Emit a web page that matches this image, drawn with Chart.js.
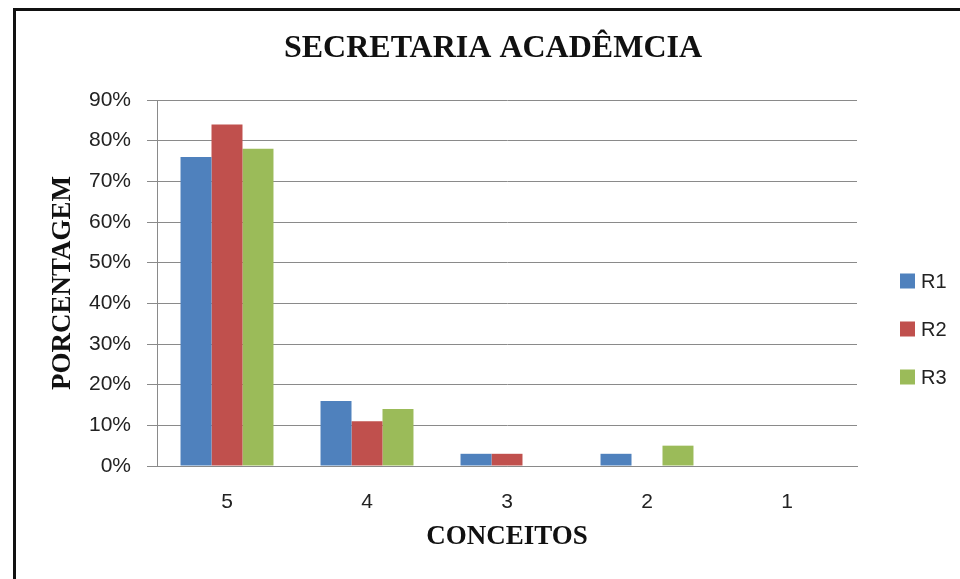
<!DOCTYPE html>
<html>
<head>
<meta charset="utf-8">
<script src="https://cdn.jsdelivr.net/npm/chart.js@4/dist/chart.umd.min.js"></script>
<style>
  html, body { margin:0; padding:0; background:#fff; overflow:hidden; width:960px; height:579px; }
  #frame { position:absolute; left:13px; top:8px; width:1000px; height:700px;
           border-left:3px solid #111; border-top:3px solid #111; }
  #wrap { position:absolute; left:0; top:0; width:986px; height:579px; }
</style>
</head>
<body>
<div id="frame"></div>
<div id="wrap"><canvas id="chart" width="986" height="579"></canvas></div>
<script>
const chartTitle = "SECRETARIA ACADÊMCIA";
const categories = ["5", "4", "3", "2", "1"];
const seriesNames = ["R1", "R2", "R3"];
const r1 = [76, 16, 3, 3, 0];
const r2 = [84, 11, 3, 0, 0];
const r3 = [78, 14, 0, 5, 0];
const colors = ["#4F81BD", "#C0504D", "#9BBB59"];
const yTicks = [0, 10, 20, 30, 40, 50, 60, 70, 80, 90];

// title and legend drawn by hand so they sit where the original had them
const extras = {
    id: 'extras',
    afterDraw(chart){
        const ctx = chart.ctx;
        ctx.save();
        ctx.fillStyle = '#111';
        ctx.textAlign = 'center';
        ctx.textBaseline = 'middle';
        ctx.font = 'bold 32px "Liberation Serif", "Times New Roman", serif';
        ctx.fillText(chartTitle, 493, 49);

        ctx.textAlign = 'left';
        ctx.font = '20px "Liberation Sans", Arial, sans-serif';
        chart.data.datasets.forEach((ds, i) => {
            const y = 281 + i*48;
            ctx.fillStyle = ds.backgroundColor;
            ctx.fillRect(900, y-7.5, 15, 15);
            ctx.fillStyle = '#222';
            ctx.fillText(ds.label, 921, y+1);
        });
        ctx.restore();
    }
};

const ctx = document.getElementById("chart");
new Chart(ctx, {
    type:'bar',
    data:{
        labels:categories,
        datasets:[r1, r2, r3].map((d, i) => ({
            label:seriesNames[i],
            data:d,
            backgroundColor:colors[i],
            categoryPercentage:0.664,
            barPercentage:1.0
        }))
    },
    options:{
        responsive:false,
        animation:false,
        layout:{ padding:{ left:0, right:129, top:100, bottom:0 } },
        plugins:{
            legend:{ display:false },
            tooltip:{ enabled:false },
            title:{ display:false }
        },
        scales:{
            x:{
                grid:{ display:false, drawTicks:false },
                border:{ display:true, color:'#8a8a8a', width:1 },
                ticks:{ color:'#222', padding:24,
                        font:{ family:'"Liberation Sans", Arial, sans-serif', size:21 } },
                title:{
                    display:true, text:'CONCEITOS', color:'#111',
                    font:{ family:'"Liberation Serif", "Times New Roman", serif', size:27, weight:'bold' },
                    padding:{ top:0, bottom:26 }
                },
                afterFit(s){ s.height = 113; }
            },
            y:{
                min:0, max:90,
                afterBuildTicks(s){ s.ticks = yTicks.map(v => ({ value:v })); },
                grid:{ color:'#8a8a8a', lineWidth:1, tickLength:10, drawTicks:true },
                border:{ display:true, color:'#8a8a8a', width:1 },
                ticks:{ color:'#222', padding:16,
                        font:{ family:'"Liberation Sans", Arial, sans-serif', size:21 },
                        callback:v => v + '%' },
                title:{
                    display:true, text:'PORCENTAGEM', color:'#111',
                    font:{ family:'"Liberation Serif", "Times New Roman", serif', size:27, weight:'bold' },
                    padding:{ top:47, bottom:0 }
                },
                afterFit(s){ s.width = 157; }
            }
        }
    },
    plugins:[extras]
});
</script>
</body>
</html>
